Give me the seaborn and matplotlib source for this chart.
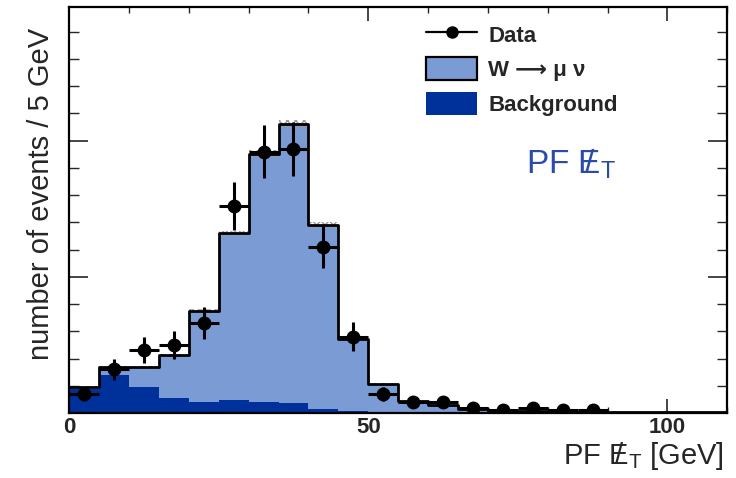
import numpy as np
import pandas as pd
import matplotlib
matplotlib.use("Agg")
import matplotlib.pyplot as plt
from matplotlib.lines import Line2D
from matplotlib.patches import Patch
from matplotlib.ticker import MultipleLocator, NullFormatter
import seaborn as sns

# 5 GeV bins of PF missing transverse energy
bin_edges = list(range(0, 115, 5))
bin_centers = [e + 2.5 for e in bin_edges[:-1]]

# Expected counts: W -> mu nu plus background (stacked total) and background alone
mc_total = [9.6, 17.0, 17.0, 21.3, 37.5, 66.0, 95.0, 106.0, 69.0, 27.0, 10.7,
            4.5, 3.0, 1.5, 0.8, 0.6, 0.5, 0.4, 0.3, 0.3, 0.2, 0.2]
background = [8.8, 14.0, 9.6, 5.5, 4.0, 4.8, 4.0, 3.7, 1.5, 0.7, 0.4,
              0.3, 0.2, 0.2, 0.1, 0.1, 0.1, 0.1, 0.1, 0.1, 0.1, 0.1]

# Observed events
data_x = [2.5, 7.5, 12.5, 17.5, 22.5, 27.5, 32.5, 37.5, 42.5, 47.5,
          52.5, 57.5, 62.5, 67.5, 72.5, 77.5, 82.5, 87.5]
data_n = [7, 16, 23, 25, 33, 76, 96, 97, 61, 28, 7, 4, 4, 2, 1, 2, 1, 1]

W_COLOR = "#7b9bd4"
BKG_COLOR = "#00309a"
LABEL_COLOR = "#2b4ba8"

# "PF" followed by a slashed E with subscript T (missing transverse energy)
PF_MET = (r"$\mathregular{PF}\ \,\mathregular{/}\!\!\!"
          r"\mathregular{E}_\mathregular{T}$")

sns.set_theme(style="ticks")
plt.rcParams["font.family"] = ["Liberation Sans", "DejaVu Sans"]
plt.rcParams["mathtext.fontset"] = "custom"
plt.rcParams["mathtext.rm"] = "Liberation Sans"

fig = plt.figure(figsize=(7.36, 4.78), dpi=100)
ax = fig.add_axes([0.094, 0.136, 0.894, 0.849])

mc = pd.DataFrame({"met": bin_centers, "total": mc_total, "bkg": background})

# Stacked expectation: total filled in light blue, background over it in dark blue
sns.histplot(data=mc, x="met", weights="total", bins=bin_edges, element="step",
             fill=True, color=W_COLOR, alpha=1.0, linewidth=0, ax=ax)
sns.histplot(data=mc, x="met", weights="bkg", bins=bin_edges, element="step",
             fill=True, color=BKG_COLOR, alpha=1.0, linewidth=0, ax=ax)

# Small systematic band on top of the stack
band_lo = np.repeat(np.array(mc_total) * 0.985, 2)
band_hi = np.repeat(np.array(mc_total) * 1.015, 2)
band_x = np.repeat(bin_edges, 2)[1:-1]
ax.fill_between(band_x, band_lo, band_hi, facecolor="none", edgecolor="#9a9a9a",
                hatch="xxxx", linewidth=0)

# Outline of the total expectation
sns.histplot(data=mc, x="met", weights="total", bins=bin_edges, element="step",
             fill=False, color="black", linewidth=2.0, ax=ax)

# Data points with Poisson errors
data_n_arr = np.array(data_n, dtype=float)
ax.errorbar(data_x, data_n_arr, yerr=np.sqrt(data_n_arr), xerr=2.5,
            fmt="o", color="black", markersize=9, elinewidth=2.2, capsize=0,
            zorder=5)

ax.set_xlim(0, 110)
ax.set_ylim(0, 149)
ax.set_xlabel(PF_MET + " [GeV]", fontsize=21, ha="right")
ax.xaxis.set_label_coords(0.995, -0.066)
ax.set_ylabel("number of events / 5 GeV", fontsize=21)
ax.yaxis.set_label_coords(-0.021, 0.54)

ax.xaxis.set_major_locator(MultipleLocator(50))
ax.xaxis.set_minor_locator(MultipleLocator(10))
ax.yaxis.set_major_locator(MultipleLocator(50))
ax.yaxis.set_minor_locator(MultipleLocator(10))
ax.yaxis.set_major_formatter(NullFormatter())

ax.tick_params(axis="x", which="major", direction="in", length=10, width=1.2,
               top=True, labelsize=16, pad=3)
ax.tick_params(axis="x", which="minor", direction="in", length=4, width=1.0,
               top=True)
ax.tick_params(axis="y", which="major", direction="in", length=14, width=1.2,
               right=True)
ax.tick_params(axis="y", which="minor", direction="in", length=7, width=1.0,
               right=True)
for lab in ax.get_xticklabels():
    lab.set_fontweight("bold")
for sp in ax.spines.values():
    sp.set_linewidth(1.6)
    sp.set_color("black")

# Legend
handles = [
    Line2D([0], [0], color="black", marker="o", markersize=8, linewidth=1.6),
    Patch(facecolor=W_COLOR, edgecolor="black", linewidth=1.6),
    Patch(facecolor=BKG_COLOR, edgecolor=BKG_COLOR, linewidth=0),
]
labels = ["Data", "W \u27f6 \u03bc \u03bd", "Background"]
leg = ax.legend(handles, labels, loc="upper left",
                bbox_to_anchor=(0.519, 1.0), frameon=False,
                prop={"size": 16, "weight": "bold"},
                handlelength=2.3, handleheight=1.2, labelspacing=0.48,
                handletextpad=0.5, borderaxespad=0.3)

ax.text(0.695, 0.591, PF_MET, transform=ax.transAxes,
        fontsize=24, color=LABEL_COLOR, ha="left", va="baseline")

fig.savefig("out.png", dpi=100)
